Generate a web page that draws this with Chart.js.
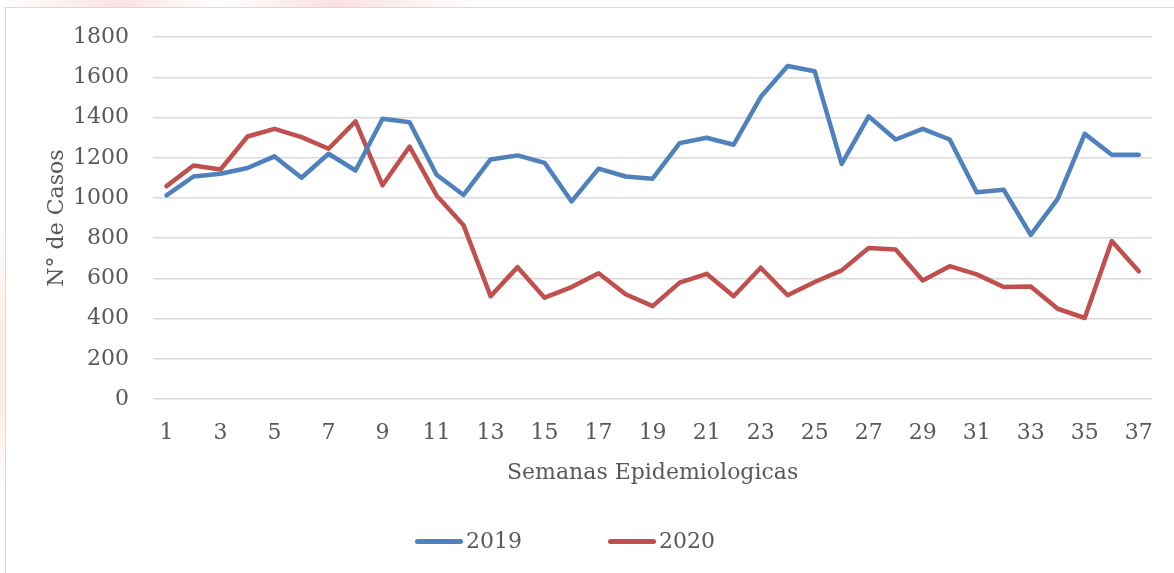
<!DOCTYPE html>
<html>
<head>
<meta charset="utf-8">
<script src="https://cdn.jsdelivr.net/npm/chart.js@4/dist/chart.umd.min.js"></script>
<style>
  body { margin: 0; background: #fff; overflow: hidden; }
  #wrap { position: relative; width: 1174px; height: 573px; overflow: hidden; }
  /* faint watermark outside the chart frame */
  .wm1 { position: absolute; left: 0; top: 0; width: 480px; height: 8px;
         background: linear-gradient(90deg, #fff 0%, #fbe3e3 25%, #fff 45%, #fbe1e1 70%, #fff 100%); }
  .wm2 { position: absolute; left: 0; top: 220px; width: 5px; height: 270px;
         background: linear-gradient(180deg, #fff, #fdeee6 40%, #fdeee6 70%, #fff); }
  #frame { position: absolute; left: 5px; top: 7px; width: 1180px; height: 580px;
           border: 1px solid #d9d9d9; background: #fff; }
  canvas { position: absolute; left: 0; top: 0; }
  #legend { position: absolute; top: 528px; left: 0; width: 1174px; height: 26px;
            font-family: "DejaVu Serif", serif; font-size: 22px; color: #595959; }
  .item { position: absolute; top: 0; height: 26px; line-height: 26px; }
  .item span.bar { position: absolute; top: 11px; height: 5px; width: 48px; border-radius: 3px; }
  .item span.txt { position: absolute; left: 51px; top: 0; }
</style>
</head>
<body>
<div id="wrap">
  <div class="wm1"></div>
  <div class="wm2"></div>
  <div id="frame"></div>
  <canvas id="chart" width="1174" height="573"></canvas>
  <div id="legend"></div>
</div>
<script>
// weekly cases
const semanas = ['1','2','3','4','5','6','7','8','9','10','11','12','13','14','15','16','17','18','19',
  '20','21','22','23','24','25','26','27','28','29','30','31','32','33','34','35','36','37'];
const casos2019 = [1013, 1107, 1121, 1149, 1207, 1101, 1220, 1137, 1394, 1377, 1116, 1015,
  1192, 1212, 1175, 983, 1146, 1107, 1096, 1273, 1300, 1265, 1502, 1657,
  1631, 1170, 1406, 1291, 1344, 1291, 1029, 1041, 817, 996, 1319, 1215, 1215];
const casos2020 = [1059, 1162, 1142, 1306, 1344, 1303, 1245, 1381, 1063, 1256, 1013, 864,
  511, 656, 504, 557, 626, 521, 462, 579, 623, 511, 653, 516,
  582, 640, 751, 744, 590, 661, 620, 557, 560, 449, 403, 786, 635];
const series = ['2019', '2020'];
const colores = ['#4f81bd', '#c0504d'];

const textColor = '#595959';
const fontFam = '"DejaVu Serif", serif';

const ctx = document.getElementById('chart').getContext('2d');
const chart = new Chart(ctx, {
  type: 'line',
  data: {
    labels: semanas,
    datasets: [casos2019, casos2020].map((d, i) => ({
      label: series[i],
      data: d,
      borderColor: colores[i],
      backgroundColor: colores[i],
      borderWidth: 4.5,
      borderCapStyle: 'round',
      borderJoinStyle: 'round',
      pointRadius: 0,
      tension: 0,
      fill: false
    }))
  },
  options: {
    responsive: false,
    animation: false,
    layout: { padding: { left: 0, top: 37, right: 19, bottom: 74 } },
    plugins: {
      legend: { display: false },
      tooltip: { enabled: false }
    },
    scales: {
      x: {
        offset: true,
        grid: { display: false, drawTicks: false },
        border: { display: false },
        ticks: {
          autoSkip: false,
          maxRotation: 0,
          padding: 21,
          color: textColor,
          font: { family: fontFam, size: 22 },
          callback: (v, i) => (i % 2 === 0 ? semanas[i] : '')
        },
        title: {
          display: true,
          text: 'Semanas Epidemiologicas',
          color: textColor,
          font: { family: fontFam, size: 22 },
          padding: { top: 0, bottom: 13 }
        },
        afterFit: (s) => { s.height = 100; }
      },
      y: {
        min: 0,
        max: 1800,
        grid: { color: '#d9d9d9', lineWidth: 1.5, drawTicks: false },
        border: { display: false },
        ticks: {
          stepSize: 200,
          padding: 24,
          color: textColor,
          font: { family: fontFam, size: 22 },
          callback: (v) => String(v)
        },
        title: {
          display: true,
          text: 'N° de Casos',
          color: textColor,
          font: { family: fontFam, size: 22 },
          padding: { top: 44, bottom: 0 }
        },
        afterFit: (s) => { s.width = 153; }
      }
    }
  }
});

// legend as plain html, placed like the original
const legend = document.getElementById('legend');
const legendX = [415, 608];
series.forEach((s, i) => {
  const it = document.createElement('div');
  it.className = 'item';
  it.style.left = legendX[i] + 'px';
  it.innerHTML = '<span class="bar" style="background:' + colores[i] + '"></span><span class="txt">' + s + '</span>';
  legend.appendChild(it);
});
</script>
</body>
</html>
